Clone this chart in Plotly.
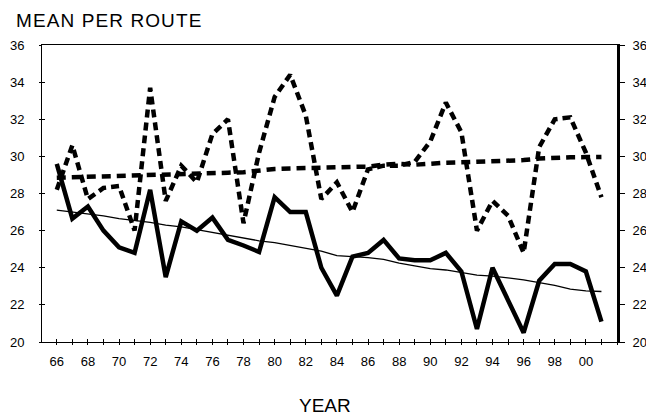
import plotly.graph_objects as go

years = list(range(1966, 2002))
tick_years = list(range(1966, 2001, 2))
tick_labels = ["66", "68", "70", "72", "74", "76", "78", "80", "82", "84",
               "86", "88", "90", "92", "94", "96", "98", "00"]
y_ticks = [20, 22, 24, 26, 28, 30, 32, 34, 36]

solid_series = [29.6, 26.65, 27.3, 26.0, 25.1, 24.8, 28.2, 23.5, 26.5, 26.0,
                26.7, 25.5, 25.2, 24.85, 27.8, 27.0, 27.0, 24.0, 22.5, 24.6,
                24.8, 25.5, 24.5, 24.4, 24.4, 24.8, 23.8, 20.7, 24.0, 22.3,
                20.5, 23.3, 24.2, 24.2, 23.8, 21.1]
solid_trend = [27.1, 27.0, 26.9, 26.8, 26.65, 26.55, 26.45, 26.3, 26.2, 26.05,
               25.9, 25.75, 25.6, 25.45, 25.35, 25.2, 25.05, 24.9, 24.65, 24.62,
               24.55, 24.45, 24.25, 24.1, 23.95, 23.88, 23.75, 23.6, 23.55, 23.45,
               23.35, 23.2, 23.05, 22.85, 22.75, 22.72]
dashed_series = [28.2, 30.6, 27.7, 28.3, 28.4, 26.0, 33.7, 27.6, 29.5, 28.6,
                 31.2, 32.0, 26.4, 30.2, 33.2, 34.4, 32.2, 27.7, 28.6, 27.0,
                 29.3, 29.5, 29.5, 29.7, 30.8, 32.9, 31.3, 26.0, 27.6, 26.8,
                 24.8, 30.5, 32.0, 32.1, 30.2, 27.8]
dashed_trend = [28.85, 28.87, 28.9, 28.92, 28.95, 28.97, 29.0, 29.03, 29.05, 29.08,
                29.1, 29.12, 29.15, 29.25, 29.32, 29.35, 29.38, 29.4, 29.4, 29.42,
                29.45, 29.55, 29.6, 29.55, 29.62, 29.66, 29.68, 29.7, 29.73, 29.76,
                29.8, 29.88, 29.93, 29.95, 29.96, 29.97]

FONT = "Liberation Sans, Arial, sans-serif"
XR = [1965.05, 2002.0]
YR = [20, 36]

fig = go.Figure()
fig.add_trace(go.Scatter(x=years, y=dashed_trend, mode="lines",
                         line=dict(color="black", width=4.5, dash="9px,6px"),
                         showlegend=False, hoverinfo="skip"))
fig.add_trace(go.Scatter(x=years, y=dashed_series, mode="lines",
                         line=dict(color="black", width=4.5, dash="8px,5px"),
                         showlegend=False))
fig.add_trace(go.Scatter(x=years, y=solid_trend, mode="lines",
                         line=dict(color="black", width=1.3),
                         showlegend=False, hoverinfo="skip"))
fig.add_trace(go.Scatter(x=years, y=solid_series, mode="lines",
                         line=dict(color="black", width=4.5),
                         showlegend=False))
# invisible traces to activate overlay axes
fig.add_trace(go.Scatter(x=[XR[0]], y=[YR[0]], xaxis="x2", yaxis="y2",
                         mode="markers", marker=dict(opacity=0),
                         showlegend=False, hoverinfo="skip"))
fig.add_trace(go.Scatter(x=[XR[0]], y=[YR[0]], xaxis="x2", yaxis="y3",
                         mode="markers", marker=dict(opacity=0),
                         showlegend=False, hoverinfo="skip"))

tickfont = dict(family=FONT, size=13, color="black")

fig.update_layout(
    width=654, height=418,
    margin=dict(l=34, r=45, t=37, b=84, autoexpand=False),
    plot_bgcolor="white", paper_bgcolor="white",
    xaxis=dict(range=XR, tickmode="array", tickvals=tick_years, ticktext=tick_labels,
               ticks="outside", ticklen=2, tickwidth=1, tickcolor="black",
               minor=dict(dtick=1, tick0=1966, ticks="outside", ticklen=2,
                          tickwidth=1, tickcolor="black"),
               showline=True, linecolor="black", linewidth=1, mirror=True,
               showgrid=False, zeroline=False, tickfont=tickfont,
               ticklabelstandoff=5, automargin=False),
    xaxis2=dict(range=XR, overlaying="x", tickmode="linear", tick0=1966, dtick=1,
                ticks="inside", ticklen=3, tickwidth=1, tickcolor="black",
                showticklabels=False, showline=False, showgrid=False,
                zeroline=False, automargin=False),
    yaxis=dict(range=YR, tickmode="array", tickvals=y_ticks,
               ticks="outside", ticklen=2, tickwidth=1, tickcolor="black",
               showline=True, linecolor="black", linewidth=1,
               showgrid=False, zeroline=False, tickfont=tickfont,
               ticklabelstandoff=12, automargin=False),
    yaxis2=dict(range=YR, overlaying="y", side="right", tickmode="array",
                tickvals=y_ticks, ticks="outside", ticklen=5, tickwidth=1,
                tickcolor="black", showline=True, linecolor="black", linewidth=3,
                showgrid=False, zeroline=False, tickfont=tickfont,
                ticklabelstandoff=5, automargin=False),
    yaxis3=dict(range=YR, overlaying="y", side="left", tickmode="array",
                tickvals=y_ticks, ticks="inside", ticklen=3, tickwidth=1,
                tickcolor="black", showticklabels=False, showline=False,
                showgrid=False, zeroline=False, automargin=False),
    annotations=[
        dict(text='<span style="letter-spacing:1.1px">MEAN PER ROUTE</span>',
             x=0, y=1, xref="paper", yref="paper",
             xanchor="left", yanchor="top", xshift=-28, yshift=37,
             showarrow=False, font=dict(family=FONT, size=19, color="black")),
        dict(text="YEAR", x=0.5, y=0, xref="paper", yref="paper",
             xanchor="center", yanchor="middle", yshift=-63, xshift=-4.5,
             showarrow=False, font=dict(family=FONT, size=19, color="black")),
    ],
)

fig.write_html("out.html")
